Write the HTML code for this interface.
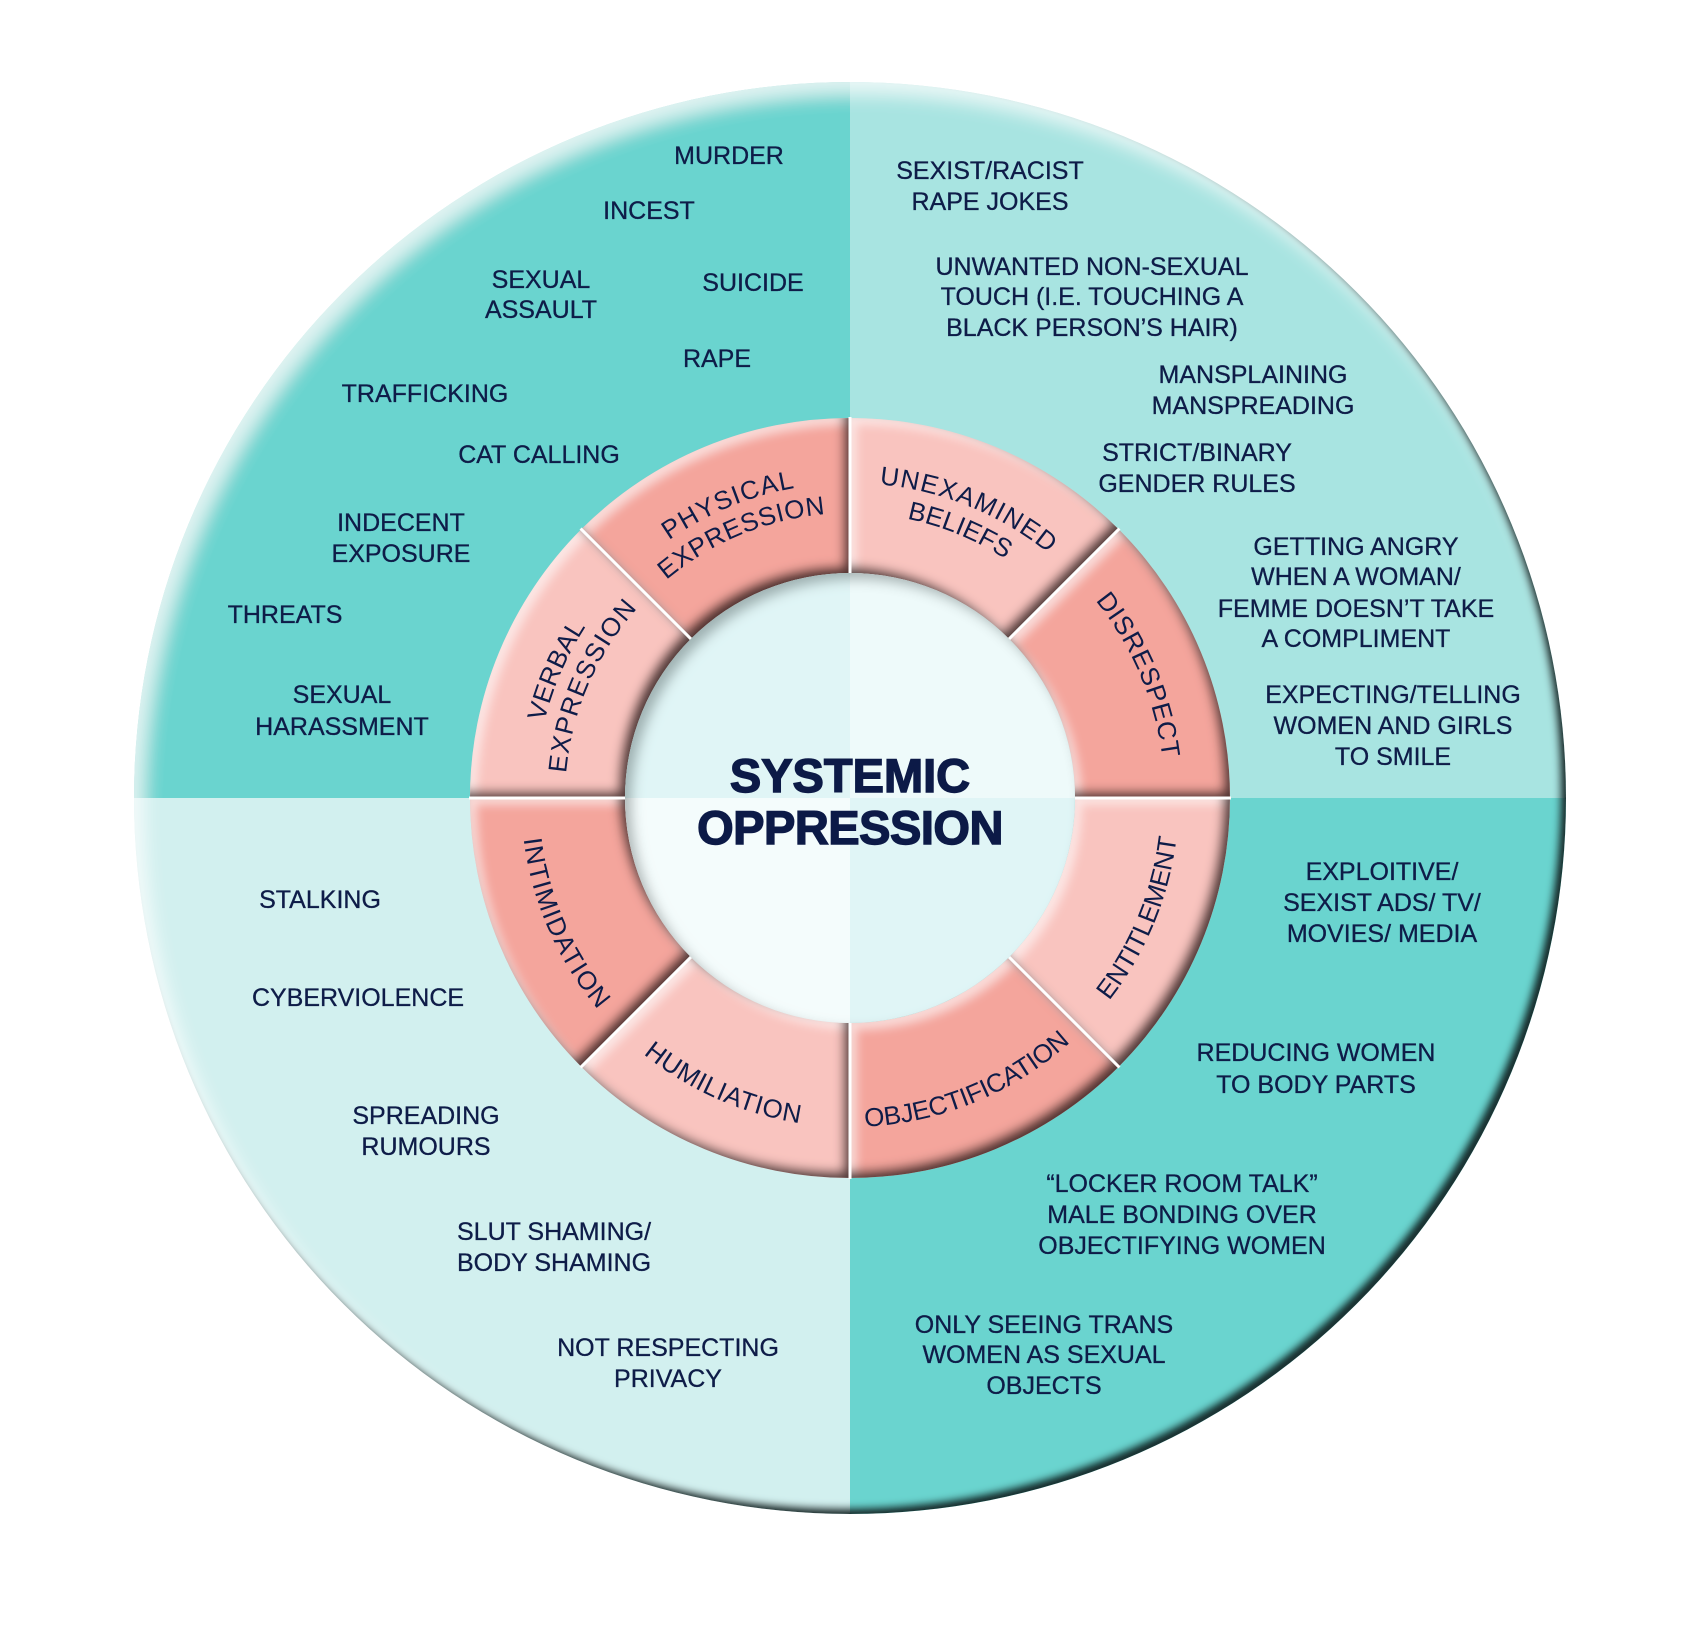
<!DOCTYPE html>
<html>
<head>
<meta charset="utf-8">
<style>
  html, body { margin: 0; padding: 0; background: #ffffff; }
  svg { display: block; }
  .t { font-family: "Liberation Sans", sans-serif; font-size: 25px; fill: #0e1c48; stroke: #0e1c48; stroke-width: 0.3px; text-anchor: middle; }
  .r { font-family: "Liberation Sans", sans-serif; font-size: 26px; fill: #0e1c48; }
  .c { font-family: "Liberation Sans", sans-serif; font-weight: bold; font-size: 47px; fill: #0c1a47; stroke: #0c1a47; stroke-width: 1.4px; text-anchor: middle; }
</style>
</head>
<body>
<svg width="1700" height="1626" viewBox="0 0 1700 1626" xmlns="http://www.w3.org/2000/svg">
  <defs>
    <filter id="bevOuter" x="-5%" y="-5%" width="110%" height="110%">
      <feOffset in="SourceAlpha" dx="-7" dy="-7" result="o1"/>
      <feGaussianBlur in="o1" stdDeviation="3.5" result="b1"/>
      <feComposite in="SourceAlpha" in2="b1" operator="out" result="s1"/>
      <feFlood flood-color="#1b3333" flood-opacity="1" result="c1"/>
      <feComposite in="c1" in2="s1" operator="in" result="shadow"/>
      <feOffset in="SourceAlpha" dx="10" dy="12" result="o2"/>
      <feGaussianBlur in="o2" stdDeviation="9" result="b2"/>
      <feComposite in="SourceAlpha" in2="b2" operator="out" result="s2"/>
      <feFlood flood-color="#ffffff" flood-opacity="0.7" result="c2"/>
      <feComposite in="c2" in2="s2" operator="in" result="hl"/>
      <feMerge><feMergeNode in="SourceGraphic"/><feMergeNode in="hl"/><feMergeNode in="shadow"/></feMerge>
    </filter>
    <filter id="bevRing" x="-10%" y="-10%" width="120%" height="120%">
      <feOffset in="SourceAlpha" dx="-7" dy="-7" result="o1"/>
      <feGaussianBlur in="o1" stdDeviation="5" result="b1"/>
      <feComposite in="SourceAlpha" in2="b1" operator="out" result="s1"/>
      <feFlood flood-color="#3a2323" flood-opacity="0.95" result="c1"/>
      <feComposite in="c1" in2="s1" operator="in" result="shadow"/>
      <feOffset in="SourceAlpha" dx="6" dy="6" result="o2"/>
      <feGaussianBlur in="o2" stdDeviation="5" result="b2"/>
      <feComposite in="SourceAlpha" in2="b2" operator="out" result="s2"/>
      <feFlood flood-color="#ffffff" flood-opacity="0.55" result="c2"/>
      <feComposite in="c2" in2="s2" operator="in" result="hl"/>
      <feMerge><feMergeNode in="SourceGraphic"/><feMergeNode in="hl"/><feMergeNode in="shadow"/></feMerge>
    </filter>
    <filter id="recess" x="-10%" y="-10%" width="120%" height="120%">
      <feOffset in="SourceAlpha" dx="7" dy="7" result="o1"/>
      <feGaussianBlur in="o1" stdDeviation="6" result="b1"/>
      <feComposite in="SourceAlpha" in2="b1" operator="out" result="s1"/>
      <feFlood flood-color="#2c4646" flood-opacity="0.55" result="c1"/>
      <feComposite in="c1" in2="s1" operator="in" result="shadow"/>
      <feMerge><feMergeNode in="SourceGraphic"/><feMergeNode in="shadow"/></feMerge>
    </filter>

    <path id="top315" d="M577.2 640.5 A315 315 0 0 1 1122.8 640.5"/>
    <path id="top285" d="M603.2 655.5 A285 285 0 0 1 1096.8 655.5"/>
    <path id="bot329" d="M565.1 962.5 A329 329 0 0 0 1134.9 962.5"/>
  </defs>

  <!-- Outer circle quadrants -->
  <g filter="url(#bevOuter)">
    <path d="M850 798 L134 798 A716 716 0 0 1 850 82 Z" fill="#6bd4cf"/>
    <path d="M850 798 L850 82 A716 716 0 0 1 1566 798 Z" fill="#a8e4e1"/>
    <path d="M850 798 L1566 798 A716 716 0 0 1 850 1514 Z" fill="#6bd4cf"/>
    <path d="M850 798 L850 1514 A716 716 0 0 1 134 798 Z" fill="#d2f0ef"/>
  </g>

  <!-- Ring segments -->
  <path filter="url(#bevRing)" fill="#f9c4bf" d="M1230 798 A380 380 0 0 1 1118.7 1066.7 L1009.1 957.1 A225 225 0 0 0 1075 798 Z"/>
  <path filter="url(#bevRing)" fill="#f4a59c" d="M1118.7 1066.7 A380 380 0 0 1 850 1178 L850 1023 A225 225 0 0 0 1009.1 957.1 Z"/>
  <path filter="url(#bevRing)" fill="#f9c4bf" d="M850 1178 A380 380 0 0 1 581.3 1066.7 L690.9 957.1 A225 225 0 0 0 850 1023 Z"/>
  <path filter="url(#bevRing)" fill="#f4a59c" d="M581.3 1066.7 A380 380 0 0 1 470 798 L625 798 A225 225 0 0 0 690.9 957.1 Z"/>
  <path filter="url(#bevRing)" fill="#f9c4bf" d="M470 798 A380 380 0 0 1 581.3 529.3 L690.9 638.9 A225 225 0 0 0 625 798 Z"/>
  <path filter="url(#bevRing)" fill="#f4a59c" d="M581.3 529.3 A380 380 0 0 1 850 418 L850 573 A225 225 0 0 0 690.9 638.9 Z"/>
  <path filter="url(#bevRing)" fill="#f9c4bf" d="M850 418 A380 380 0 0 1 1118.7 529.3 L1009.1 638.9 A225 225 0 0 0 850 573 Z"/>
  <path filter="url(#bevRing)" fill="#f4a59c" d="M1118.7 529.3 A380 380 0 0 1 1230 798 L1075 798 A225 225 0 0 0 1009.1 638.9 Z"/>

  <!-- Ring dividers -->
  <g stroke="#ffffff" stroke-width="3">
    <line x1="1075" y1="798" x2="1231" y2="798"/>
    <line x1="1009.1" y1="957.1" x2="1119.4" y2="1067.4"/>
    <line x1="850" y1="1023" x2="850" y2="1179"/>
    <line x1="690.9" y1="957.1" x2="580.6" y2="1067.4"/>
    <line x1="625" y1="798" x2="469" y2="798"/>
    <line x1="690.9" y1="638.9" x2="580.6" y2="528.6"/>
    <line x1="850" y1="573" x2="850" y2="417"/>
    <line x1="1009.1" y1="638.9" x2="1119.4" y2="528.6"/>
  </g>

  <!-- Inner circle -->
  <g filter="url(#recess)">
    <path d="M850 798 L625 798 A225 225 0 0 1 850 573 Z" fill="#e0f5f6"/>
    <path d="M850 798 L850 573 A225 225 0 0 1 1075 798 Z" fill="#eefafa"/>
    <path d="M850 798 L1075 798 A225 225 0 0 1 850 1023 Z" fill="#e0f5f6"/>
    <path d="M850 798 L850 1023 A225 225 0 0 1 625 798 Z" fill="#f4fcfc"/>
  </g>

  <!-- Center title -->
  <text class="c" x="850" y="792">SYSTEMIC</text>
  <text class="c" x="850" y="844" style="letter-spacing:-0.5px">OPPRESSION</text>

  <!-- Ring labels (top) -->
  <g transform="rotate(-22.5 850 798)">
    <text class="r" style="letter-spacing:1.2px"><textPath href="#top315" startOffset="50%" text-anchor="middle">PHYSICAL</textPath></text>
    <text class="r" style="letter-spacing:0.6px"><textPath href="#top285" startOffset="50%" text-anchor="middle">EXPRESSION</textPath></text>
  </g>
  <g transform="rotate(22.3 850 798)">
    <text class="r" style="letter-spacing:1.3px"><textPath href="#top315" startOffset="50%" text-anchor="middle">UNEXAMINED</textPath></text>
    <text class="r" style="letter-spacing:0px"><textPath href="#top285" startOffset="50%" text-anchor="middle">BELIEFS</textPath></text>
  </g>
  <g transform="rotate(67 850 798)">
    <text class="r" style="letter-spacing:0.8px"><textPath href="#top315" startOffset="50%" text-anchor="middle">DISRESPECT</textPath></text>
  </g>
  <g transform="rotate(-66.5 850 798)">
    <text class="r" style="letter-spacing:0.3px"><textPath href="#top315" startOffset="50%" text-anchor="middle">VERBAL</textPath></text>
    <text class="r" style="letter-spacing:1.5px"><textPath href="#top285" startOffset="50%" text-anchor="middle">EXPRESSION</textPath></text>
  </g>

  <!-- Ring labels (bottom) -->
  <g transform="rotate(-67.5 850 798)">
    <text class="r" style="letter-spacing:-0.2px"><textPath href="#bot329" startOffset="50%" text-anchor="middle">ENTITLEMENT</textPath></text>
  </g>
  <g transform="rotate(-22.3 850 798)">
    <text class="r" style="letter-spacing:-0.2px"><textPath href="#bot329" startOffset="50%" text-anchor="middle">OBJECTIFICATION</textPath></text>
  </g>
  <g transform="rotate(23.8 850 798)">
    <text class="r" style="letter-spacing:0.7px"><textPath href="#bot329" startOffset="50%" text-anchor="middle">HUMILIATION</textPath></text>
  </g>
  <g transform="rotate(66.3 850 798)">
    <text class="r" style="letter-spacing:1.3px"><textPath href="#bot329" startOffset="50%" text-anchor="middle">INTIMIDATION</textPath></text>
  </g>

  <!-- Top-left quadrant -->
  <text class="t" x="729" y="164">MURDER</text>
  <text class="t" x="649" y="219">INCEST</text>
  <text class="t" x="541" y="288">SEXUAL</text>
  <text class="t" x="541" y="318">ASSAULT</text>
  <text class="t" x="753" y="291">SUICIDE</text>
  <text class="t" x="717" y="367">RAPE</text>
  <text class="t" x="425" y="402">TRAFFICKING</text>
  <text class="t" x="539" y="463">CAT CALLING</text>
  <text class="t" x="401" y="531">INDECENT</text>
  <text class="t" x="401" y="562">EXPOSURE</text>
  <text class="t" x="285" y="623">THREATS</text>
  <text class="t" x="342" y="703">SEXUAL</text>
  <text class="t" x="342" y="735">HARASSMENT</text>

  <!-- Top-right quadrant -->
  <text class="t" x="990" y="179">SEXIST/RACIST</text>
  <text class="t" x="990" y="210">RAPE JOKES</text>
  <text class="t" x="1092" y="275">UNWANTED NON-SEXUAL</text>
  <text class="t" x="1092" y="305">TOUCH (I.E. TOUCHING A</text>
  <text class="t" x="1092" y="336">BLACK PERSON’S HAIR)</text>
  <text class="t" x="1253" y="383">MANSPLAINING</text>
  <text class="t" x="1253" y="414">MANSPREADING</text>
  <text class="t" x="1197" y="461">STRICT/BINARY</text>
  <text class="t" x="1197" y="492">GENDER RULES</text>
  <text class="t" x="1356" y="555">GETTING ANGRY</text>
  <text class="t" x="1356" y="585">WHEN A WOMAN/</text>
  <text class="t" x="1356" y="617">FEMME DOESN’T TAKE</text>
  <text class="t" x="1356" y="647">A COMPLIMENT</text>
  <text class="t" x="1393" y="703">EXPECTING/TELLING</text>
  <text class="t" x="1393" y="734">WOMEN AND GIRLS</text>
  <text class="t" x="1393" y="765">TO SMILE</text>

  <!-- Bottom-left quadrant -->
  <text class="t" x="320" y="908">STALKING</text>
  <text class="t" x="358" y="1006">CYBERVIOLENCE</text>
  <text class="t" x="426" y="1124">SPREADING</text>
  <text class="t" x="426" y="1155">RUMOURS</text>
  <text class="t" x="457" y="1240" style="text-anchor:start">SLUT SHAMING/</text>
  <text class="t" x="457" y="1271" style="text-anchor:start">BODY SHAMING</text>
  <text class="t" x="668" y="1356">NOT RESPECTING</text>
  <text class="t" x="668" y="1387">PRIVACY</text>

  <!-- Bottom-right quadrant -->
  <text class="t" x="1382" y="880">EXPLOITIVE/</text>
  <text class="t" x="1382" y="911">SEXIST ADS/ TV/</text>
  <text class="t" x="1382" y="942">MOVIES/ MEDIA</text>
  <text class="t" x="1316" y="1061">REDUCING WOMEN</text>
  <text class="t" x="1316" y="1093">TO BODY PARTS</text>
  <text class="t" x="1182" y="1192">“LOCKER ROOM TALK”</text>
  <text class="t" x="1182" y="1223">MALE BONDING OVER</text>
  <text class="t" x="1182" y="1254">OBJECTIFYING WOMEN</text>
  <text class="t" x="1044" y="1333">ONLY SEEING TRANS</text>
  <text class="t" x="1044" y="1363">WOMEN AS SEXUAL</text>
  <text class="t" x="1044" y="1394">OBJECTS</text>
</svg>
</body>
</html>
